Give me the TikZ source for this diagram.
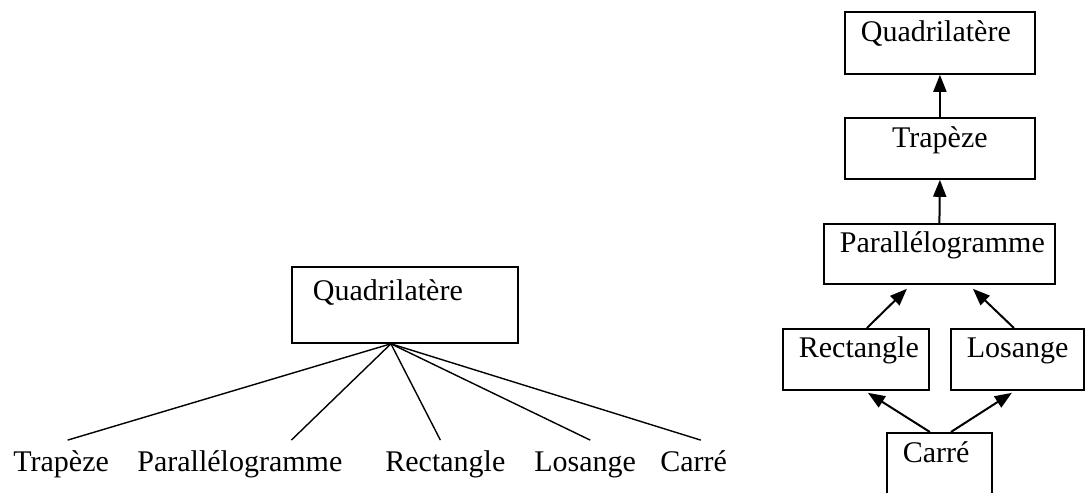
\documentclass[tikz,border=0pt]{standalone}
\usepackage{fontspec}
\setmainfont{Liberation Serif}
\usepackage{tikz}
\usetikzlibrary{arrows.meta,positioning}

\begin{document}
\begin{tikzpicture}[
			x = 0.5pt, y = -0.5pt,
			every node/.style = {font=\fontsize{15}{18}\selectfont},
			boite/.style = {draw, line width=0.9pt, anchor=north west, align=left,
				inner xsep=8pt, inner ysep=0pt, text height=15pt, text depth=15.5pt},
			mot/.style = {anchor=base west, inner sep=0pt, text height=10.25pt},
			trait/.style = {line width=0.7pt},
			fleche/.style = {line width=1pt, -{Triangle[length=8.5pt,width=6.5pt]}}
			]

			\clip (0,0) rectangle (1085,492);

			% arbre a gauche
			\node[boite, text width=92pt, inner xsep=10.5pt, text height=17pt, text depth=21pt] (quadA) at (291,266) {Quadrilatère};
			\coordinate (sommet) at ([xshift=-7pt]quadA.south);

			\node[mot] (trapA) at (13,471) {Trapèze};
			\node[mot] (parA) at (137,471) {Parallélogramme};
			\node[mot] (rectA) at (385,471) {Rectangle};
			\node[mot] (losA) at (534,471) {Losange};
			\node[mot] (carreA) at (660,471) {Carré};

			\draw[trait] (sommet) -- ([xshift=3.25pt,yshift=5pt]trapA.north);
			\draw[trait] (sommet) -- ([xshift=25.75pt,yshift=5pt]parA.north);
			\draw[trait] (sommet) -- ([xshift=-2.5pt,yshift=5pt]rectA.north);
			\draw[trait] (sommet) -- ([xshift=2.5pt,yshift=5pt]losA.north);
			\draw[trait] (sommet) -- ([xshift=3.5pt,yshift=5pt]carreA.north);

			% hierarchie a droite
			\node[boite, text width=79pt, text depth=16pt] (quadB) at (844,11) {Quadrilatère};
			\node[boite, text width=79pt, align=center] (trapB) at (844,117) {Trapèze};
			\node[boite, text width=99.5pt, text height=14.5pt] (parB) at (823,223) {Parallélogramme};
			\node[boite, text width=57pt, text height=14.5pt, text depth=16pt] (rectB) at (782,328) {Rectangle};
			\node[boite, text width=50.5pt, text height=14.5pt, text depth=16pt] (losB) at (950,328) {Losange};
			\node[boite, text width=36.5pt, text depth=20pt] (carreB) at (886,432) {Carré};

			\draw[fleche] (trapB.north) -- (quadB.south);
			\draw[fleche] (parB.north) -- (trapB.south);
			\draw[fleche] ([xshift=5.5pt]rectB.north) -- ([xshift=-16.25pt,yshift=-2pt]parB.south);
			\draw[fleche] ([xshift=-1.75pt]losB.north) -- ([xshift=16.75pt,yshift=-2pt]parB.south);
			\draw[fleche] ([xshift=-4.75pt]carreB.north) -- ([xshift=6pt,yshift=-1pt]rectB.south);
			\draw[fleche] ([xshift=5.75pt]carreB.north) -- ([xshift=-2.75pt,yshift=-1pt]losB.south);

		\end{tikzpicture}
\end{document}
